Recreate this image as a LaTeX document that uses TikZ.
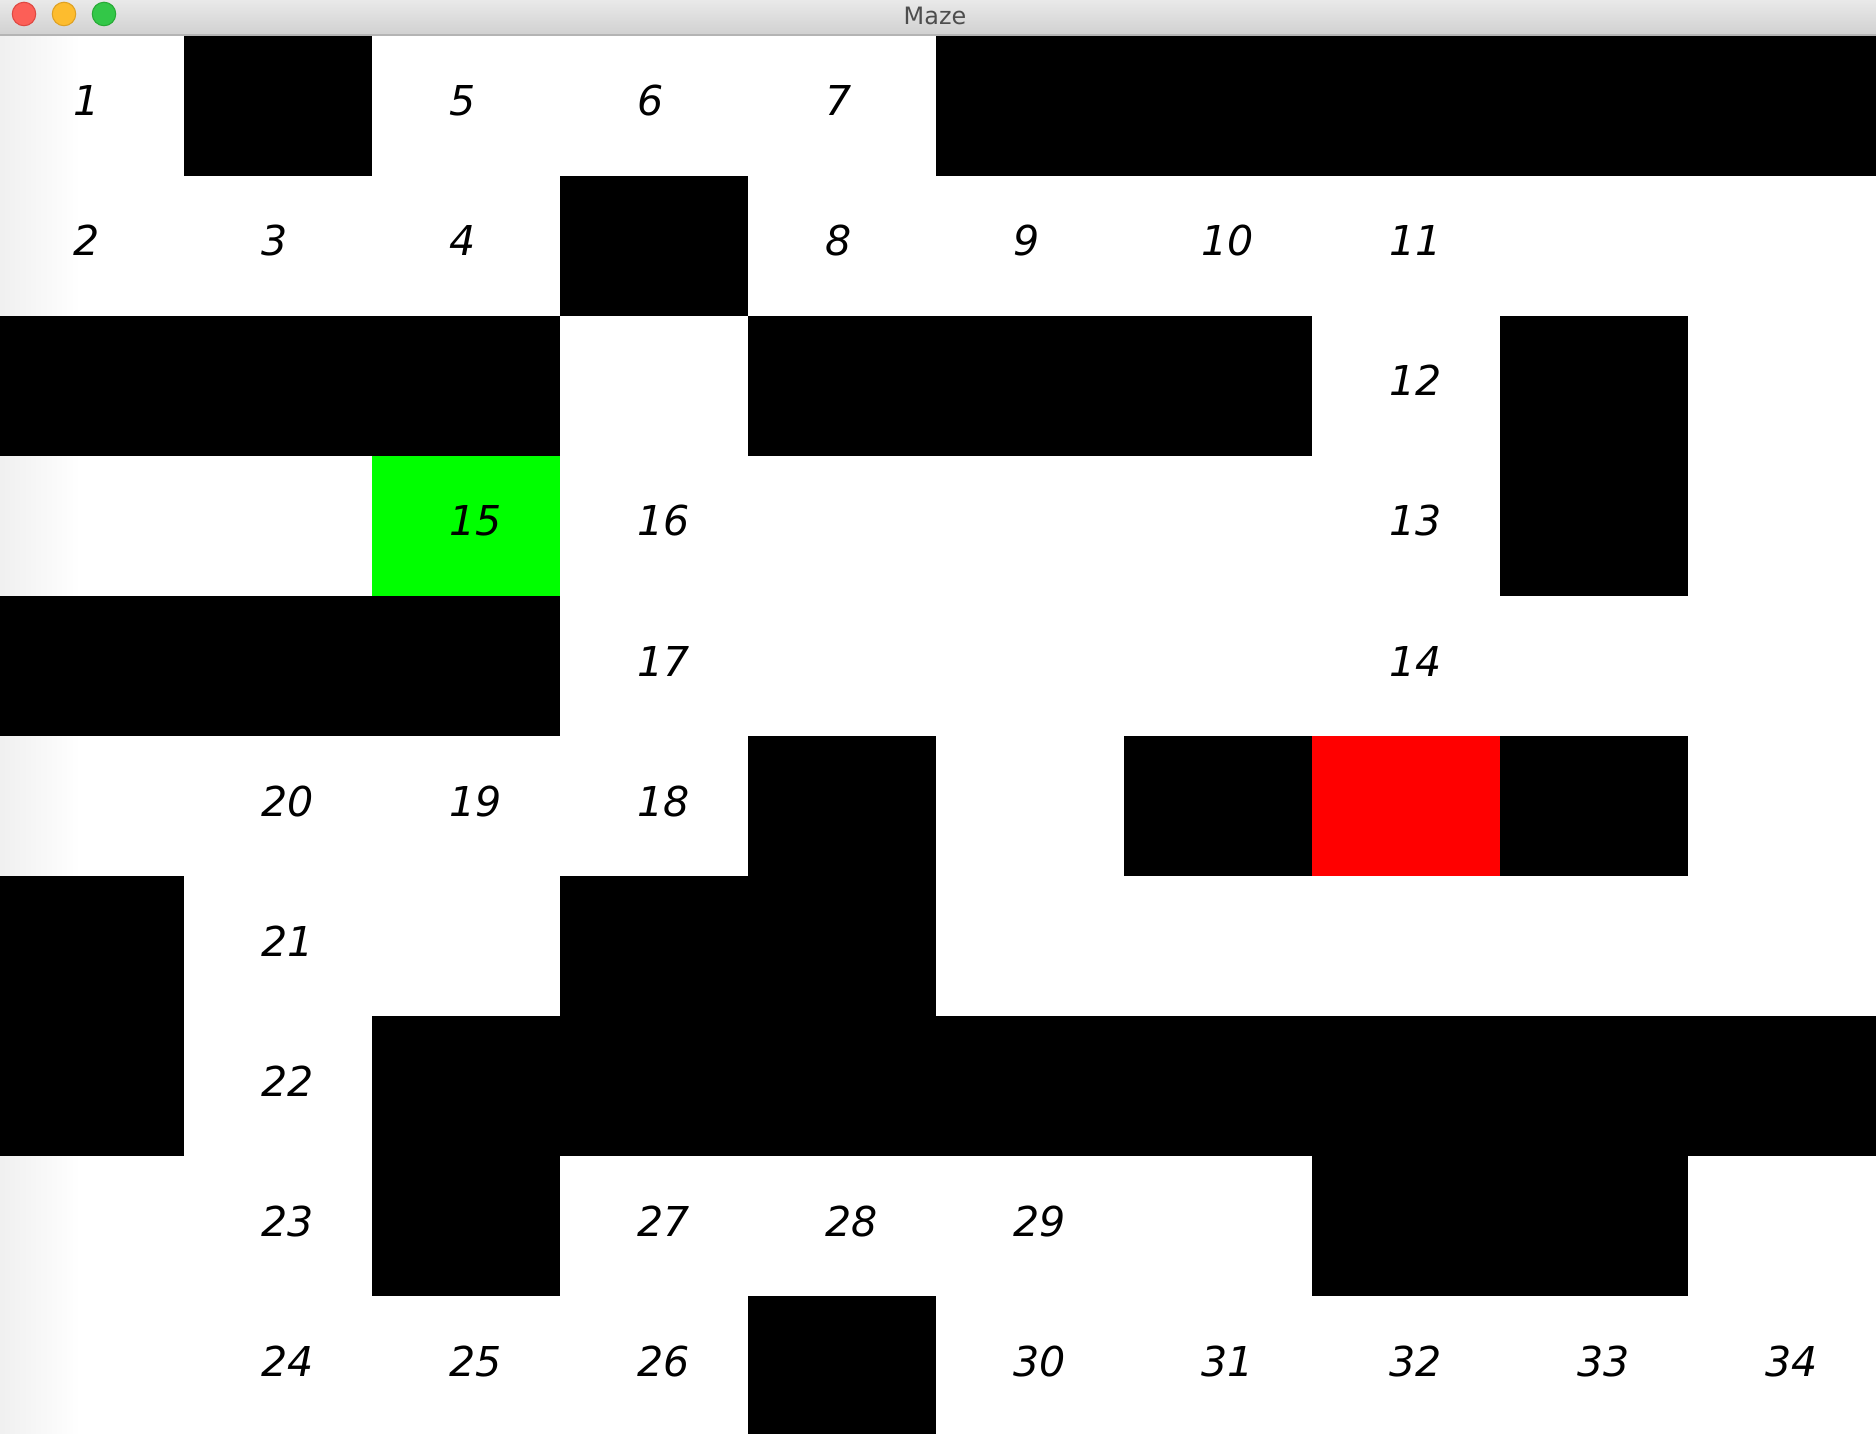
\documentclass[tikz,border=0pt]{standalone}
\usepackage{fontspec}
\setmainfont{DejaVu Sans}
\usepackage{xcolor}
\definecolor{barTop}{HTML}{E9E9E9}
\definecolor{barBottom}{HTML}{D1D1D1}
\definecolor{barLine}{HTML}{B4B4B4}
\definecolor{titleGray}{HTML}{4D4D4D}
\definecolor{closeFill}{HTML}{FC5F57}
\definecolor{closeLine}{HTML}{DE4841}
\definecolor{minFill}{HTML}{FDBC2E}
\definecolor{minLine}{HTML}{DEA123}
\definecolor{zoomFill}{HTML}{33C748}
\definecolor{zoomLine}{HTML}{27AA35}
\definecolor{startGreen}{HTML}{00FF00}
\definecolor{goalRed}{HTML}{FF0000}

\begin{document}
\begin{tikzpicture}[x=0.01cm,y=-0.01cm,
  wall/.style={fill=black},
  button/.style={circle,draw,line width=0.3pt,minimum size=0.235cm,inner sep=0pt},
  cellnum/.style={anchor=base west,inner sep=0pt,font=\fontsize{11.7}{14}\selectfont\itshape}]
\useasboundingbox (0,0) rectangle (1876,1434);

% window body
\fill[white] (0,36) rectangle (1876,1434);
\shade[left color=gray!12,right color=white] (0,36) rectangle (80,1434);

% title bar
\shade[top color=barTop,bottom color=barBottom] (0,0) rectangle (1876,34);
\fill[barLine] (0,34) rectangle (1876,36);
\node[button,draw=closeLine,fill=closeFill] (btnclose) at (24,14) {};
\node[button,draw=minLine,fill=minFill] (btnmin) at (64,14) {};
\node[button,draw=zoomLine,fill=zoomFill] (btnzoom) at (104,14) {};
\node[text=titleGray,font=\fontsize{6.8}{8}\selectfont] (title) at (935,15.5) {Maze};

% walls
\foreach \c/\r in {1/0,5/0,6/0,7/0,8/0,9/0,
                   3/1,
                   0/2,1/2,2/2,4/2,5/2,6/2,8/2,
                   8/3,
                   0/4,1/4,2/4,
                   4/5,6/5,8/5,
                   0/6,3/6,4/6,
                   0/7,2/7,3/7,4/7,5/7,6/7,7/7,8/7,9/7,
                   2/8,7/8,8/8,
                   4/9}
  \fill[wall] ({-4+188*\c},{36+140*\r}) rectangle ++(188,140);

% start and goal
\fill[startGreen] ({-4+188*2},{36+140*3}) rectangle ++(188,140);
\fill[goalRed] ({-4+188*7},{36+140*5}) rectangle ++(188,140);

% path numbers
\foreach \n/\c/\r in {1/0/0,5/2/0,6/3/0,7/4/0,
                      2/0/1,3/1/1,4/2/1,8/4/1,9/5/1,10/6/1,11/7/1,
                      12/7/2,
                      15/2/3,16/3/3,13/7/3,
                      17/3/4,14/7/4,
                      20/1/5,19/2/5,18/3/5,
                      21/1/6,
                      22/1/7,
                      23/1/8,27/3/8,28/4/8,29/5/8,
                      24/1/9,25/2/9,26/3/9,30/5/9,31/6/9,32/7/9,33/8/9,34/9/9}
  \node[cellnum] (n\n) at ({-4+188*\c+77},{36+140*\r+80}) {\n};
\end{tikzpicture}
\end{document}
